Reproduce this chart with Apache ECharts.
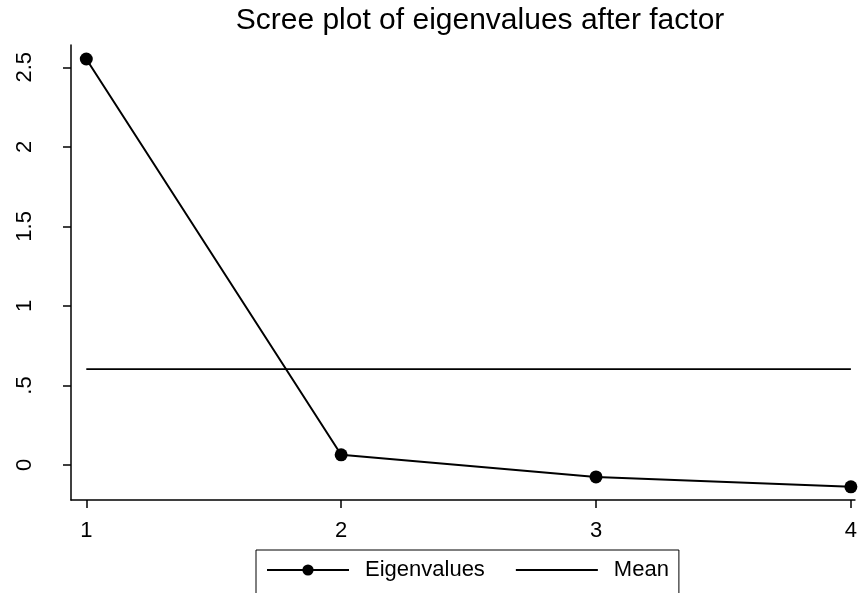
<!DOCTYPE html>
<html>
<head>
<meta charset="utf-8">
<script src="https://cdn.jsdelivr.net/npm/echarts@6/dist/echarts.min.js"></script>
<style>
  html, body { margin: 0; padding: 0; background: #fff; }
  #main { width: 860px; height: 593px; }
</style>
</head>
<body>
<div id="main"></div>
<script>
// data
var factors = [1, 2, 3, 4]
var eigenvalues = [2.552, 0.064, -0.075, -0.137]
var meanValue = 0.603
var yTicks = [0, 0.5, 1, 1.5, 2, 2.5]
var yTickLabels = ['0', '.5', '1', '1.5', '2', '2.5']

var chart = echarts.init(document.getElementById('main'))
var font = 'Liberation Sans, Arial, sans-serif'

var option = {
  backgroundColor: '#fff',
  animation: false,
  title: {
    text: 'Scree plot of eigenvalues after factor',
    left: 475,
    textAlign: 'center',
    top: 1,
    textStyle: { fontFamily: font, fontSize: 30, fontWeight: 'normal', color: '#000' }
  },
  legend: {
    left: 256,
    top: 550,
    padding: [9, 10, 14, 10],
    borderColor: '#000',
    borderWidth: 1,
    itemWidth: 82,
    itemHeight: 14,
    itemGap: 30,
    textStyle: { fontFamily: font, fontSize: 22, color: '#000', padding: [0, 0, 0, 11] },
    data: [
      { name: 'Eigenvalues' },
      { name: 'Mean', itemStyle: { opacity: 0 } }
    ]
  },
  grid: { left: 71, right: 5, top: 45, bottom: 93 },
  xAxis: {
    type: 'value',
    min: 0.94,
    max: 4.016,
    splitLine: { show: false },
    axisLine: { onZero: false, lineStyle: { color: '#000', width: 1.5 } },
    axisTick: { customValues: factors, length: 8, lineStyle: { color: '#000', width: 1.5 } },
    axisLabel: {
      customValues: factors,
      margin: 20,
      fontFamily: font, fontSize: 22, color: '#000'
    }
  },
  yAxis: {
    type: 'value',
    min: -0.22,
    max: 2.64,
    splitLine: { show: false },
    axisLine: { show: true, onZero: false, lineStyle: { color: '#000', width: 1.5 } },
    axisTick: { show: true, customValues: yTicks, length: 8, lineStyle: { color: '#000', width: 1.5 } },
    axisLabel: {
      customValues: yTicks,
      rotate: 90,
      margin: 35,
      fontFamily: font, fontSize: 22, color: '#000',
      formatter: function (v) {
        var i = yTicks.indexOf(v)
        return i >= 0 ? yTickLabels[i] : ''
      }
    }
  },
  series: [
    {
      name: 'Eigenvalues',
      type: 'line',
      data: factors.map(function (f, i) { return [f, eigenvalues[i]] }),
      symbol: 'circle',
      symbolSize: 13,
      itemStyle: { color: '#000' },
      lineStyle: { color: '#000', width: 2 }
    },
    {
      name: 'Mean',
      type: 'line',
      data: [[factors[0], meanValue], [factors[factors.length - 1], meanValue]],
      symbol: 'none',
      itemStyle: { color: '#000' },
      lineStyle: { color: '#000', width: 1.8 }
    }
  ]
}

chart.setOption(option)
</script>
</body>
</html>
